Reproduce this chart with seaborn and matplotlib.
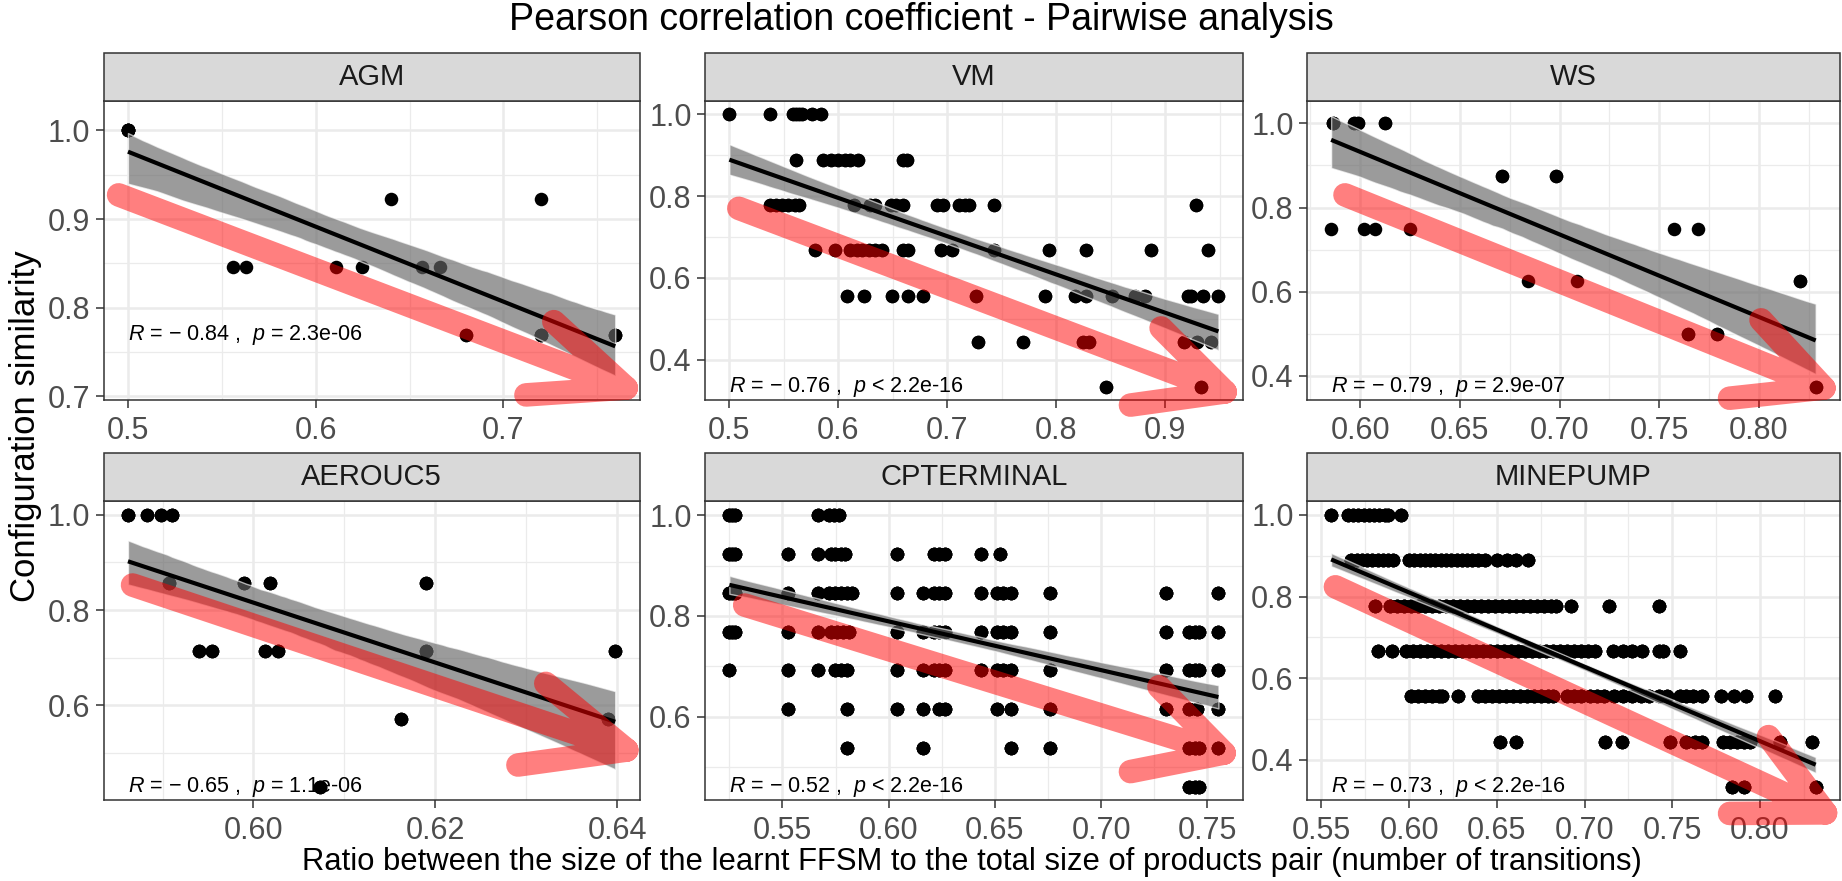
import matplotlib
matplotlib.use("Agg")
import matplotlib.pyplot as plt
import numpy as np
import pandas as pd
import seaborn as sns
from matplotlib.path import Path
from matplotlib.patches import PathPatch, Rectangle

# ---------------- data ----------------
panel_names = ["AGM", "VM", "WS", "AEROUC5", "CPTERMINAL", "MINEPUMP"]

agm_x = [0.5, 0.5, 0.5, 0.5, 0.5, 0.5, 0.5558, 0.5628, 0.611, 0.6248, 0.640,
         0.6564, 0.6665, 0.680, 0.680, 0.7198, 0.7198, 0.7198, 0.7198,
         0.7596, 0.7596, 0.7596]
agm_y = [1.0, 1.0, 1.0, 1.0, 1.0, 1.0, 0.846, 0.846, 0.846, 0.846, 0.923,
         0.846, 0.846, 0.769, 0.769, 0.923, 0.769, 0.769, 0.769,
         0.769, 0.769, 0.769]

vm_levels = [1.0, 0.889, 0.778, 0.667, 0.556, 0.444, 0.333]
vm_x_by_level = [
    [0.5, 0.537, 0.558, 0.561, 0.564, 0.567, 0.576, 0.584],
    [0.561, 0.586, 0.593, 0.600, 0.606, 0.611, 0.618, 0.659, 0.663],
    [0.537, 0.543, 0.548, 0.554, 0.560, 0.564, 0.614, 0.629, 0.634, 0.648,
     0.653, 0.659, 0.691, 0.696, 0.711, 0.716, 0.720, 0.743, 0.928],
    [0.579, 0.597, 0.611, 0.617, 0.622, 0.628, 0.634, 0.640, 0.659, 0.664,
     0.694, 0.704, 0.743, 0.793, 0.827, 0.887, 0.939],
    [0.608, 0.624, 0.649, 0.664, 0.678, 0.726, 0.790, 0.817, 0.827, 0.851,
     0.872, 0.882, 0.921, 0.924, 0.935, 0.949],
    [0.728, 0.770, 0.825, 0.830, 0.917, 0.929, 0.942],
    [0.846, 0.933],
]
vm_repeat = 2          # overplotted duplicates

ws_x = [0.5862, 0.5862, 0.5862, 0.5971, 0.5971, 0.599, 0.599, 0.6126, 0.6126,
        0.5854, 0.6017, 0.6074, 0.6252, 0.6713, 0.6713, 0.6984, 0.6984,
        0.6843, 0.7087, 0.7573, 0.7697, 0.8206, 0.8206, 0.7645, 0.7645,
        0.7792, 0.7792, 0.8285, 0.8285]
ws_y = [1.0, 1.0, 1.0, 1.0, 1.0, 1.0, 1.0, 1.0, 1.0,
        0.75, 0.75, 0.75, 0.75, 0.875, 0.875, 0.875, 0.875,
        0.625, 0.625, 0.75, 0.75, 0.625, 0.625, 0.5, 0.5,
        0.5, 0.5, 0.375, 0.375]

aero_x = [0.5862, 0.5883, 0.5898, 0.5910, 0.5907, 0.599, 0.6018, 0.619,
          0.594, 0.5954, 0.6013, 0.6027, 0.619, 0.6398, 0.6162, 0.6390, 0.6073]
aero_y = [1.0, 1.0, 1.0, 1.0, 0.857, 0.857, 0.857, 0.857,
          0.714, 0.714, 0.714, 0.714, 0.714, 0.714, 0.571, 0.571, 0.429]
aero_count = [4, 3, 3, 4, 3, 3, 3, 3, 3, 3, 3, 3, 3, 3, 3, 3, 3]

cpt_levels = [1.0, 0.923, 0.846, 0.769, 0.692, 0.615, 0.538, 0.461]
cpt_x_by_level = [
    [0.525, 0.5264, 0.5277, 0.5667, 0.5719, 0.5742, 0.5767],
    [0.525, 0.5264, 0.5277, 0.5527, 0.5667, 0.5729, 0.5748, 0.5777, 0.5796,
     0.6037, 0.6215, 0.6238, 0.6263, 0.6435, 0.6523],
    [0.525, 0.5264, 0.5277, 0.5527, 0.5667, 0.5719, 0.5748, 0.5777, 0.5806,
     0.5825, 0.6037, 0.6162, 0.6215, 0.6238, 0.6263, 0.6435, 0.6508, 0.6537,
     0.6575, 0.6758, 0.7306, 0.7552],
    [0.525, 0.5264, 0.5277, 0.5527, 0.5667, 0.5729, 0.5758, 0.5787, 0.5815,
     0.6037, 0.6162, 0.6215, 0.6238, 0.6263, 0.6435, 0.6508, 0.6537, 0.6575,
     0.6758, 0.7306, 0.7412, 0.744, 0.746, 0.7552],
    [0.525, 0.5527, 0.5667, 0.5748, 0.5777, 0.5806, 0.6037, 0.6162, 0.6215,
     0.6238, 0.6263, 0.6435, 0.6508, 0.6537, 0.6575, 0.6758, 0.7306, 0.7412,
     0.744, 0.746, 0.7552],
    [0.5527, 0.5806, 0.6037, 0.6162, 0.6238, 0.6263, 0.6508, 0.6575, 0.6758,
     0.7306, 0.7412, 0.7452, 0.7552],
    [0.5806, 0.6162, 0.6575, 0.6758, 0.7412, 0.744, 0.746, 0.7552],
    [0.7412, 0.744, 0.746],
]
cpt_repeat = 4

mp_levels = [1.0, 0.889, 0.778, 0.667, 0.556, 0.444, 0.333]
mp_x_by_level = [
    [0.5555, 0.565, 0.568, 0.571, 0.574, 0.577, 0.580, 0.583, 0.586, 0.588,
     0.5952],
    [0.567, 0.570, 0.573, 0.576, 0.579, 0.582, 0.585, 0.588, 0.591, 0.600,
     0.603, 0.606, 0.609, 0.612, 0.615, 0.618, 0.621, 0.624, 0.627, 0.630,
     0.633, 0.636, 0.639, 0.643, 0.650, 0.656, 0.661, 0.668],
    [0.5807, 0.589, 0.593, 0.597, 0.601, 0.605, 0.609, 0.613, 0.617, 0.621,
     0.625, 0.629, 0.633, 0.637, 0.641, 0.645, 0.649, 0.653, 0.657, 0.661,
     0.665, 0.669, 0.673, 0.677, 0.681, 0.684, 0.6923, 0.7142, 0.7424],
    [0.5824, 0.5902, 0.598, 0.602, 0.606, 0.610, 0.614, 0.618, 0.622, 0.626,
     0.630, 0.634, 0.638, 0.642, 0.646, 0.650, 0.654, 0.658, 0.662, 0.666,
     0.670, 0.674, 0.678, 0.682, 0.686, 0.690, 0.694, 0.698, 0.702, 0.706,
     0.716, 0.722, 0.727, 0.7325, 0.7424, 0.745, 0.7545],
    [0.601, 0.605, 0.609, 0.613, 0.617, 0.619, 0.6277, 0.639, 0.643, 0.647,
     0.651, 0.655, 0.659, 0.663, 0.667, 0.671, 0.675, 0.679, 0.682, 0.690,
     0.694, 0.698, 0.703, 0.707, 0.711, 0.717, 0.722, 0.727, 0.732, 0.737,
     0.7424, 0.747, 0.7545, 0.758, 0.762, 0.7667, 0.7777, 0.7855, 0.792,
     0.8086],
    [0.652, 0.6608, 0.7115, 0.7215, 0.749, 0.758, 0.763, 0.7667, 0.7792,
     0.783, 0.787, 0.791, 0.7943, 0.8112, 0.8296],
    [0.7843, 0.791, 0.8318],
]
mp_repeat = 4

r_text = ["\u22120.84", "\u22120.76", "\u22120.79", "\u22120.65", "\u22120.52", "\u22120.73"]
p_text = ["= 2.3e-06", "< 2.2e-16", "= 2.9e-07", "= 1.1e-06", "< 2.2e-16", "< 2.2e-16"]

x_ticks = [[0.5, 0.6, 0.7], [0.5, 0.6, 0.7, 0.8, 0.9],
           [0.60, 0.65, 0.70, 0.75, 0.80], [0.60, 0.62, 0.64],
           [0.55, 0.60, 0.65, 0.70, 0.75], [0.55, 0.60, 0.65, 0.70, 0.75, 0.80]]
x_tick_labels = [["0.5", "0.6", "0.7"], ["0.5", "0.6", "0.7", "0.8", "0.9"],
                 ["0.60", "0.65", "0.70", "0.75", "0.80"], ["0.60", "0.62", "0.64"],
                 ["0.55", "0.60", "0.65", "0.70", "0.75"],
                 ["0.55", "0.60", "0.65", "0.70", "0.75", "0.80"]]
y_ticks = [[0.7, 0.8, 0.9, 1.0], [0.4, 0.6, 0.8, 1.0], [0.4, 0.6, 0.8, 1.0],
           [0.6, 0.8, 1.0], [0.6, 0.8, 1.0], [0.4, 0.6, 0.8, 1.0]]
y_tick_labels = [["0.7", "0.8", "0.9", "1.0"], ["0.4", "0.6", "0.8", "1.0"],
                 ["0.4", "0.6", "0.8", "1.0"], ["0.6", "0.8", "1.0"],
                 ["0.6", "0.8", "1.0"], ["0.4", "0.6", "0.8", "1.0"]]
y_limits = [(0.696, 1.033), (0.301, 1.033), (0.343, 1.053),
            (0.401, 1.029), (0.435, 1.028), (0.302, 1.034)]

title_text = "Pearson correlation coefficient - Pairwise analysis"
x_title = "Ratio between the size of the learnt FFSM to the total size of products pair (number of transitions)"
y_title = "Configuration similarity"

# red annotation arrows (axes fraction): start, tip, upper wing, lower wing
arrows = [
    [(0.028, 0.686), (0.975, 0.040), (0.840, 0.262), (0.788, 0.017)],
    [(0.063, 0.641), (0.967, 0.027), (0.848, 0.241), (0.791, -0.017)],
    [(0.0715, 0.686), (0.970, 0.040), (0.852, 0.268), (0.793, 0.006)],
    [(0.054, 0.719), (0.976, 0.167), (0.825, 0.390), (0.773, 0.117)],
    [(0.074, 0.652), (0.965, 0.157), (0.844, 0.379), (0.791, 0.095)],
    [(0.0535, 0.713), (0.973, -0.043), (0.866, 0.212), (0.793, -0.045)],
]


def level_frame(levels, xs_by_level, repeat=1):
    xs, ys = [], []
    for lv, xs_l in zip(levels, xs_by_level):
        xs.extend(xs_l)
        ys.extend([lv] * len(xs_l))
    return pd.DataFrame({"x": np.repeat(xs, repeat), "y": np.repeat(ys, repeat)})


frames = [
    pd.DataFrame({"x": agm_x, "y": agm_y}),
    level_frame(vm_levels, vm_x_by_level, vm_repeat),
    pd.DataFrame({"x": ws_x, "y": ws_y}),
    pd.DataFrame({"x": np.repeat(aero_x, aero_count), "y": np.repeat(aero_y, aero_count)}),
    level_frame(cpt_levels, cpt_x_by_level, cpt_repeat),
    level_frame(mp_levels, mp_x_by_level, mp_repeat),
]

# ---------------- style ----------------
sns.set_theme(style="white")
plt.rcParams["font.family"] = ["Liberation Sans", "DejaVu Sans"]
plt.rcParams["mathtext.fontset"] = "custom"
plt.rcParams["mathtext.rm"] = "Liberation Sans"
plt.rcParams["mathtext.it"] = "Liberation Sans:italic"

W, H = 1842, 881
fig = plt.figure(figsize=(W / 100, H / 100), dpi=100)
fig.patch.set_facecolor("white")

col_left = [103.6, 704.9, 1306.9]
col_w = [536, 538, 533]
row_top = [101, 501]
panel_h = 299
strip_h = 48.3

GRID = "#EBEBEB"
DARK = "#333333"

for i, name in enumerate(panel_names):
    r, c = divmod(i, 3)
    left = col_left[c] / W
    bottom = 1 - (row_top[r] + panel_h) / H
    ax = fig.add_axes([left, bottom, col_w[c] / W, panel_h / H])
    df = frames[i]

    sns.regplot(data=df, x="x", y="y", ax=ax, scatter=False, ci=95,
                n_boot=1000, seed=3, color="black", truncate=True,
                line_kws={"lw": 3.0, "zorder": 4, "solid_capstyle": "butt"})
    band = ax.collections[-1]
    band.set_facecolor("#666666")
    band.set_alpha(0.65)
    band.set_zorder(3)
    sns.scatterplot(data=df, x="x", y="y", ax=ax, color="black", s=95,
                    linewidth=0, zorder=2, legend=False)

    xlo, xhi = df["x"].min(), df["x"].max()
    pad = 0.05 * (xhi - xlo)

    xt, yt = x_ticks[i], y_ticks[i]
    ax.set_xticks(xt)
    ax.set_xticklabels(x_tick_labels[i])
    ax.set_yticks(yt)
    ax.set_yticklabels(y_tick_labels[i])
    xs = xt[1] - xt[0]
    ys = yt[1] - yt[0]
    ax.set_xticks([xt[0] - xs / 2] + [t + xs / 2 for t in xt], minor=True)
    ax.set_yticks([yt[0] - ys / 2] + [t + ys / 2 for t in yt], minor=True)
    ax.set_xlim(xlo - pad, xhi + pad)
    ax.set_ylim(*y_limits[i])

    ax.grid(True, which="major", color=GRID, lw=1.8)
    ax.grid(True, which="minor", color=GRID, lw=0.9)
    ax.set_axisbelow(True)
    ax.tick_params(which="major", direction="out", length=5.5, width=1.1,
                   color=DARK, labelsize=22, labelcolor="#4D4D4D", pad=4,
                   bottom=True, left=True)
    ax.tick_params(axis="x", which="major", pad=6)
    ax.tick_params(which="minor", length=0)
    for sp in ax.spines.values():
        sp.set_color(DARK)
        sp.set_linewidth(1.1)
    ax.set_xlabel("")
    ax.set_ylabel("")

    # strip
    sh = strip_h / panel_h
    ax.add_patch(Rectangle((0, 1), 1, sh, transform=ax.transAxes,
                           facecolor="#D9D9D9", edgecolor=DARK, lw=1.1,
                           clip_on=False, zorder=5))
    ax.text(0.5, 1 + sh / 2, name, transform=ax.transAxes, ha="center",
            va="center", fontsize=21, color="#1A1A1A", zorder=6)

    # correlation label
    ax.text(xlo, df["y"].min(),
            "$R$ = " + r_text[i].replace("\u2212", "\u2212 ") + " ,  $p$ " + p_text[i],
            ha="left", va="center", fontsize=15.5, color="black", zorder=5)

    # red arrow annotation
    s0, tip, up, low = arrows[i]
    verts = [s0, tip, up, tip, low]
    codes = [Path.MOVETO, Path.LINETO, Path.MOVETO, Path.LINETO, Path.LINETO]
    ax.add_patch(PathPatch(Path(verts, codes), transform=ax.transAxes,
                           facecolor="none", edgecolor="red", alpha=0.5,
                           lw=17, capstyle="round", joinstyle="round",
                           clip_on=False, zorder=7))

fig.text(0.5, 1 - 20 / H, title_text, ha="center", va="center",
         fontsize=27, color="black")
fig.text((col_left[0] + (col_left[2] + col_w[2])) / 2 / W, 1 - 862 / H, x_title,
         ha="center", va="center", fontsize=22.3, color="black")
fig.text(26 / W, 1 - 426 / H, y_title, ha="center", va="center",
         rotation=90, fontsize=25, color="black")

fig.savefig("out.png", dpi=100, facecolor="white")
